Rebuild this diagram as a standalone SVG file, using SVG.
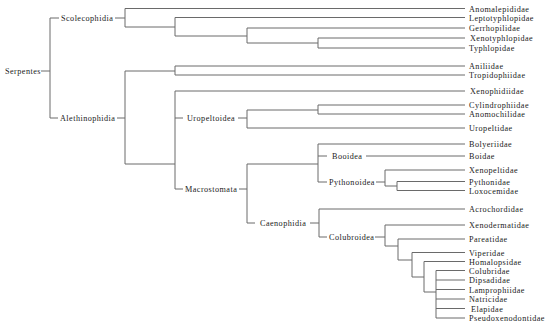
<svg xmlns="http://www.w3.org/2000/svg" width="550" height="327" viewBox="0 0 550 327">
<style>
.c{fill:none;stroke:#6a6a6a;stroke-width:1}
text{font-family:"Liberation Serif","Times New Roman",serif;font-size:8.2px;letter-spacing:0.45px;fill:#222}
</style>
<rect width="550" height="327" fill="#fff"/>
<g id="connectors" class="c">
<path d="M41,71H50M50,18V118M50,18H59M115,18H125M50,118H58M117,118H125"/>
<path d="M125,8.5V27M125,8.5H465M125,27H175M175,17.5V36M175,17.5H465M175,36H247M247,28V43M247,28H465M247,43H318M318,38V48M318,38H465M318,48H465"/>
<path d="M125,71V164M125,71H175M125,164H175M175,66V75M175,66H465M175,75H465"/>
<path d="M175,91V189M175,91H465M175,118H183M175,189H183M238,118H247M247,110V128M247,110H318M247,128H465M318,105V114M318,105H465M318,114H465"/>
<path d="M239,189H247M247,164V223M247,164H318M247,223H255M318,144V182M318,144H465M318,156H327M366,156H465M318,182H327M376,182H385M385,170V186M385,170H465M385,186H397M397,181.5V190.5M397,181.5H465M397,190.5H465"/>
<path d="M310,223H319M319,209V237M319,209H465M319,237H327M375,237H385M385,225V246M385,225H465M385,246H398M398,239V260M398,239H465M398,260H412M412,252.5V277M412,252.5H465M412,277H424M424,261.5V292M424,261.5H465M424,292H436M436,270.5V318M436,270.5H465M436,280H465M436,289.5H465M436,299H465M436,308.5H465M436,318H465"/>
</g>
<g id="n-serpentes"><text x="5" y="74">Serpentes</text></g>
<g id="n-scolecophidia"><text x="61" y="21">Scolecophidia</text></g>
<g id="n-alethinophidia"><text x="60" y="121">Alethinophidia</text></g>
<g id="n-uropeltoidea"><text x="187" y="121">Uropeltoidea</text></g>
<g id="n-macrostomata"><text x="185" y="192">Macrostomata</text></g>
<g id="n-booidea"><text x="332" y="159">Booidea</text></g>
<g id="n-pythonoidea"><text x="329" y="185">Pythonoidea</text></g>
<g id="n-caenophidia"><text x="260" y="226">Caenophidia</text></g>
<g id="n-colubroidea"><text x="329" y="240">Colubroidea</text></g>
<g id="n-anomalepididae"><text x="469" y="11.5">Anomalepididae</text></g>
<g id="n-leptotyphlopidae"><text x="469" y="20.5">Leptotyphlopidae</text></g>
<g id="n-gerrhopilidae"><text x="469" y="31">Gerrhopilidae</text></g>
<g id="n-xenotyphlopidae"><text x="470" y="41">Xenotyphlopidae</text></g>
<g id="n-typhlopidae"><text x="469" y="51">Typhlopidae</text></g>
<g id="n-aniliidae"><text x="469" y="69">Aniliidae</text></g>
<g id="n-tropidophiidae"><text x="469" y="78">Tropidophiidae</text></g>
<g id="n-xenophidiidae"><text x="470" y="94">Xenophidiidae</text></g>
<g id="n-cylindrophiidae"><text x="469" y="108">Cylindrophiidae</text></g>
<g id="n-anomochilidae"><text x="469" y="117">Anomochilidae</text></g>
<g id="n-uropeltidae"><text x="469" y="131">Uropeltidae</text></g>
<g id="n-bolyeriidae"><text x="469" y="147">Bolyeriidae</text></g>
<g id="n-boidae"><text x="469" y="159">Boidae</text></g>
<g id="n-xenopeltidae"><text x="469" y="173">Xenopeltidae</text></g>
<g id="n-pythonidae"><text x="469" y="184.5">Pythonidae</text></g>
<g id="n-loxocemidae"><text x="469" y="193.5">Loxocemidae</text></g>
<g id="n-acrochordidae"><text x="469" y="212">Acrochordidae</text></g>
<g id="n-xenodermatidae"><text x="469" y="228">Xenodermatidae</text></g>
<g id="n-pareatidae"><text x="469" y="242">Pareatidae</text></g>
<g id="n-viperidae"><text x="469" y="255.5">Viperidae</text></g>
<g id="n-homalopsidae"><text x="469" y="264.5">Homalopsidae</text></g>
<g id="n-colubridae"><text x="469" y="273.5">Colubridae</text></g>
<g id="n-dipsadidae"><text x="469" y="283">Dipsadidae</text></g>
<g id="n-lamprophiidae"><text x="469" y="292.5">Lamprophiidae</text></g>
<g id="n-natricidae"><text x="469" y="302">Natricidae</text></g>
<g id="n-elapidae"><text x="471" y="311.5">Elapidae</text></g>
<g id="n-pseudoxenodontidae"><text x="469" y="321">Pseudoxenodontidae</text></g>
</svg>
